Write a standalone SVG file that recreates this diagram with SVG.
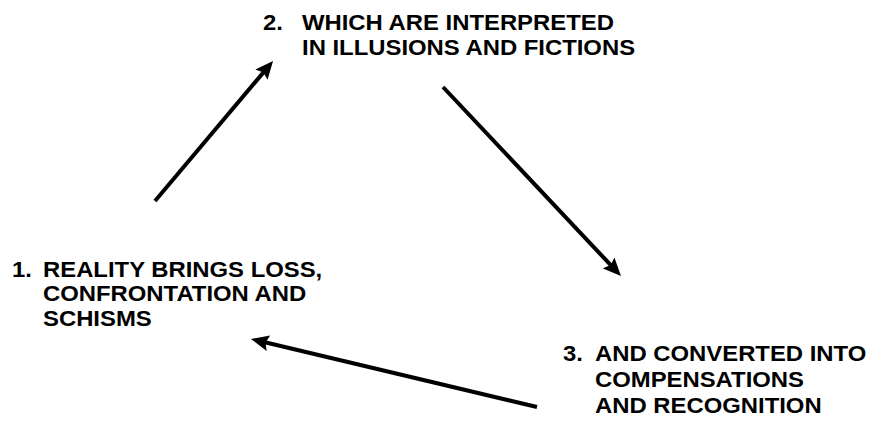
<svg xmlns="http://www.w3.org/2000/svg" width="869" height="421" viewBox="0 0 869 421">
  <style>
    .lbl { font-family: "Liberation Sans", Arial, sans-serif; font-weight: bold; font-size: 22px; fill: #000; }
    .edge { stroke: #000; stroke-width: 4; fill: none; marker-end: url(#head); }
  </style>
  <defs>
    <marker id="head" markerUnits="userSpaceOnUse" markerWidth="18" markerHeight="16" viewBox="0 0 18 16" refX="8" refY="8" orient="auto">
      <path d="M0,0 L18,8 L0,16 L3,8 z" fill="#000"/>
    </marker>
  </defs>
  <rect width="869" height="421" fill="#fff"/>

  <!-- labels are set slightly wide: each group is stretched horizontally from its text column -->
  <g id="step1" transform="matrix(1.085 0 0 1 43 0)">
    <text class="lbl" x="-28.6" y="277">1.</text>
    <text class="lbl" x="0" y="277">REALITY BRINGS LOSS,</text>
    <text class="lbl" x="0" y="301">CONFRONTATION AND</text>
    <text class="lbl" x="0" y="326">SCHISMS</text>
  </g>

  <g id="step2" transform="matrix(1.085 0 0 1 302 0)">
    <text class="lbl" x="-35.9" y="30">2.</text>
    <text class="lbl" x="0" y="30">WHICH ARE INTERPRETED</text>
    <text class="lbl" x="0" y="55">IN ILLUSIONS AND FICTIONS</text>
  </g>

  <g id="step3" transform="matrix(1.085 0 0 1 595 0)">
    <text class="lbl" x="-29.5" y="361">3.</text>
    <text class="lbl" x="0" y="361">AND CONVERTED INTO</text>
    <text class="lbl" x="0" y="387">COMPENSATIONS</text>
    <text class="lbl" x="0" y="413">AND RECOGNITION</text>
  </g>

  <g id="connectors">
    <line class="edge" x1="155" y1="201" x2="266.6" y2="68.6"/>
    <line class="edge" x1="443" y1="87" x2="614.1" y2="268.7"/>
    <line class="edge" x1="537" y1="407" x2="260.7" y2="341.3"/>
  </g>
</svg>
